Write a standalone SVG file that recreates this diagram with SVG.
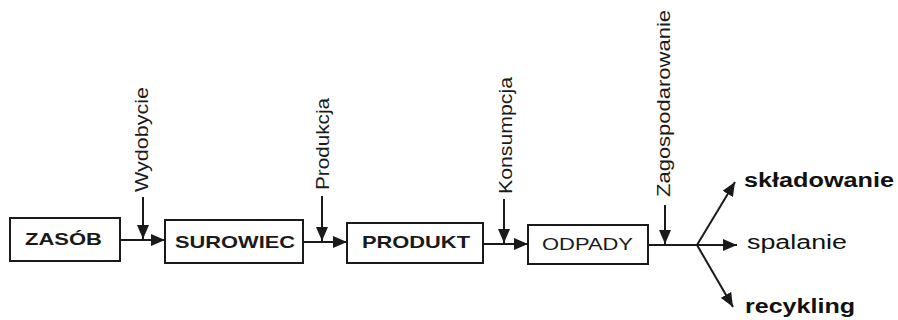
<svg xmlns="http://www.w3.org/2000/svg" width="898" height="320" viewBox="0 0 898 320">
<style>
.box{fill:#fff;stroke:#1a1a1a;stroke-width:2}
.bt{font-family:"Liberation Sans",Arial,sans-serif;font-size:17px;fill:#1a1a1a;text-anchor:middle}
.lbl{font-family:"Liberation Sans",Arial,sans-serif;font-size:18px;fill:#1a1a1a}
.out{font-family:"Liberation Sans",Arial,sans-serif;font-size:20px;fill:#111}
.c{stroke:#1a1a1a;stroke-width:2;fill:none}
</style>
<defs>
<marker id="arr" viewBox="0 0 14 12" refX="14" refY="6" markerWidth="14" markerHeight="12" orient="auto" markerUnits="userSpaceOnUse">
<path d="M0,0 L14,6 L0,12 z" fill="#1a1a1a"/>
</marker>
</defs>
<rect width="898" height="320" fill="#fff"/>
<g id="connectors">
<line class="c" x1="120" y1="240" x2="165" y2="240" marker-end="url(#arr)"/>
<line class="c" x1="303" y1="242" x2="347" y2="242" marker-end="url(#arr)"/>
<line class="c" x1="483" y1="244" x2="528" y2="244" marker-end="url(#arr)"/>
<line class="c" x1="648" y1="245" x2="697" y2="245"/>
<line class="c" x1="697" y1="245" x2="735" y2="182" marker-end="url(#arr)"/>
<line class="c" x1="697" y1="245" x2="737" y2="245" marker-end="url(#arr)"/>
<line class="c" x1="697" y1="245" x2="733" y2="307" marker-end="url(#arr)"/>
<line class="c" x1="143" y1="197" x2="143" y2="239" marker-end="url(#arr)"/>
<line class="c" x1="322" y1="196" x2="322" y2="241" marker-end="url(#arr)"/>
<line class="c" x1="504" y1="199" x2="504" y2="243" marker-end="url(#arr)"/>
<line class="c" x1="665" y1="205" x2="665" y2="244" marker-end="url(#arr)"/>
</g>
<g id="zasob">
<rect class="box" x="10" y="218" width="110" height="43"/>
<text class="bt" x="63.5" y="245" font-weight="bold" textLength="77" lengthAdjust="spacingAndGlyphs">ZASÓB</text>
</g>
<g id="surowiec">
<rect class="box" x="165" y="220" width="138" height="43"/>
<text class="bt" x="235" y="248" font-weight="bold" textLength="120" lengthAdjust="spacingAndGlyphs">SUROWIEC</text>
</g>
<g id="produkt">
<rect class="box" x="347" y="223" width="136" height="40"/>
<text class="bt" x="416" y="248" font-weight="bold" textLength="108" lengthAdjust="spacingAndGlyphs">PRODUKT</text>
</g>
<g id="odpady">
<rect class="box" x="528" y="225" width="120" height="39"/>
<text class="bt" x="587.5" y="250" textLength="91" lengthAdjust="spacingAndGlyphs">ODPADY</text>
</g>
<g id="label-wydobycie">
<text class="lbl" transform="translate(148,192) rotate(-90)" textLength="105" lengthAdjust="spacingAndGlyphs">Wydobycie</text>
</g>
<g id="label-produkcja">
<text class="lbl" transform="translate(329,190) rotate(-90)" textLength="92" lengthAdjust="spacingAndGlyphs">Produkcja</text>
</g>
<g id="label-konsumpcja">
<text class="lbl" transform="translate(512,194) rotate(-90)" textLength="117" lengthAdjust="spacingAndGlyphs">Konsumpcja</text>
</g>
<g id="label-zagospodarowanie">
<text class="lbl" transform="translate(670,197) rotate(-90)" textLength="187" lengthAdjust="spacingAndGlyphs">Zagospodarowanie</text>
</g>
<g id="skladowanie">
<text class="out" x="744" y="187" font-weight="bold" textLength="150" lengthAdjust="spacingAndGlyphs">składowanie</text>
</g>
<g id="spalanie">
<text class="out" x="747" y="249" textLength="100" lengthAdjust="spacingAndGlyphs">spalanie</text>
</g>
<g id="recykling">
<text class="out" x="745" y="313" font-weight="bold" textLength="110" lengthAdjust="spacingAndGlyphs">recykling</text>
</g>
</svg>
